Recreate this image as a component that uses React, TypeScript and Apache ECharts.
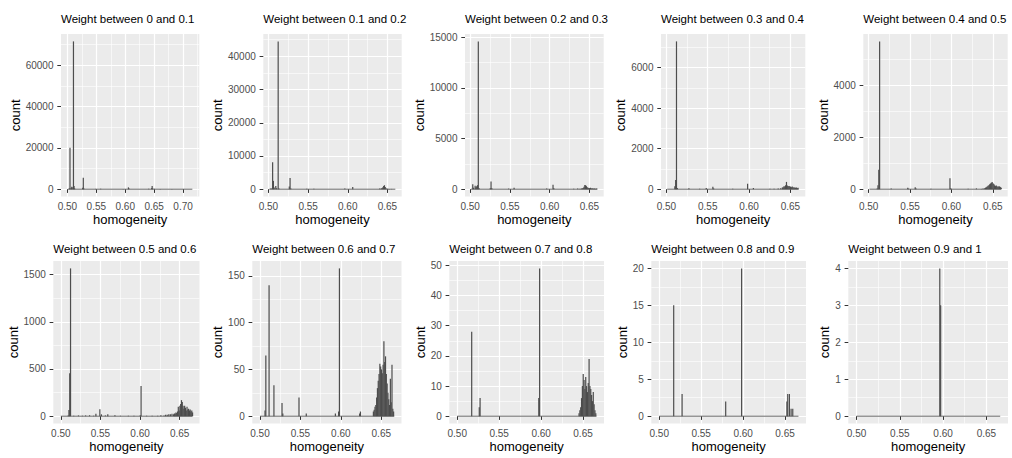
import React, { useEffect, useRef } from "react";
import * as echarts from "echarts";

// ---------- data ----------
const panelTitles = [
  "Weight between 0 and 0.1",
  "Weight between 0.1 and 0.2",
  "Weight between 0.2 and 0.3",
  "Weight between 0.3 and 0.4",
  "Weight between 0.4 and 0.5",
  "Weight between 0.5 and 0.6",
  "Weight between 0.6 and 0.7",
  "Weight between 0.7 and 0.8",
  "Weight between 0.8 and 0.9",
  "Weight between 0.9 and 1",
];

const binWidth = 0.001;

// bin centres (homogeneity) and counts for each weight class
const w00Bins = [0.503, 0.504, 0.506, 0.507, 0.509, 0.510, 0.511, 0.512, 0.526, 0.527, 0.528, 0.548, 0.557, 0.596, 0.605, 0.606, 0.640, 0.645, 0.646, 0.647, 0.650, 0.660, 0.680, 0.700];
const w00Counts = [400, 20000, 600, 1200, 900, 71500, 1500, 300, 700, 5500, 300, 150, 200, 150, 900, 300, 200, 500, 1500, 400, 200, 100, 100, 80];

const w01Bins = [0.503, 0.505, 0.506, 0.507, 0.509, 0.510, 0.512, 0.513, 0.526, 0.527, 0.528, 0.548, 0.557, 0.596, 0.606, 0.640, 0.642, 0.643, 0.644, 0.645, 0.646, 0.647, 0.648, 0.650, 0.652, 0.655];
const w01Counts = [300, 8100, 2500, 500, 1000, 300, 44500, 200, 800, 3400, 200, 150, 150, 200, 700, 200, 200, 400, 600, 1000, 1200, 700, 300, 150, 100, 80];

const w02Bins = [0.503, 0.504, 0.506, 0.507, 0.508, 0.509, 0.510, 0.511, 0.525, 0.526, 0.527, 0.548, 0.555, 0.596, 0.604, 0.605, 0.630, 0.635, 0.638, 0.640, 0.641, 0.642, 0.643, 0.644, 0.645, 0.646, 0.647, 0.648, 0.649, 0.650, 0.651, 0.652, 0.653, 0.654, 0.655, 0.656, 0.657, 0.658, 0.659];
const w02Counts = [500, 150, 350, 200, 300, 400, 14600, 100, 100, 750, 100, 60, 150, 80, 450, 100, 40, 80, 50, 60, 80, 120, 250, 420, 380, 300, 200, 150, 120, 100, 150, 80, 100, 60, 50, 80, 50, 40, 60];

const w03Bins = [0.510, 0.511, 0.512, 0.513, 0.527, 0.540, 0.548, 0.556, 0.557, 0.580, 0.598, 0.605, 0.625, 0.630, 0.635, 0.638, 0.640, 0.641, 0.642, 0.643, 0.644, 0.645, 0.646, 0.647, 0.648, 0.649, 0.650, 0.651, 0.652, 0.653, 0.654, 0.655, 0.656, 0.657, 0.658, 0.659];
const w03Counts = [150, 450, 7300, 60, 50, 20, 60, 120, 40, 20, 270, 60, 20, 20, 30, 50, 80, 100, 150, 130, 200, 360, 180, 150, 160, 140, 120, 100, 130, 100, 80, 90, 70, 80, 60, 70];

const w04Bins = [0.510, 0.511, 0.512, 0.513, 0.527, 0.547, 0.548, 0.556, 0.557, 0.575, 0.598, 0.599, 0.620, 0.630, 0.636, 0.638, 0.640, 0.641, 0.642, 0.643, 0.644, 0.645, 0.646, 0.647, 0.648, 0.649, 0.650, 0.651, 0.652, 0.653, 0.654, 0.655, 0.656, 0.657, 0.658, 0.659, 0.660];
const w04Counts = [30, 150, 750, 5700, 30, 60, 20, 80, 30, 20, 420, 40, 20, 30, 10, 25, 40, 60, 80, 100, 130, 150, 190, 220, 250, 280, 230, 200, 150, 120, 140, 110, 90, 110, 100, 80, 60];

const w05Bins = [0.509, 0.510, 0.511, 0.512, 0.516, 0.522, 0.527, 0.531, 0.536, 0.541, 0.544, 0.549, 0.551, 0.556, 0.559, 0.568, 0.575, 0.585, 0.592, 0.600, 0.601, 0.608, 0.615, 0.622, 0.626, 0.630, 0.632, 0.634, 0.636, 0.638, 0.640, 0.642, 0.643, 0.644, 0.645, 0.646, 0.647, 0.648, 0.649, 0.650, 0.651, 0.652, 0.653, 0.654, 0.655, 0.656, 0.657, 0.658, 0.659, 0.660, 0.661, 0.662, 0.663, 0.664, 0.665, 0.666];
const w05Counts = [8, 65, 455, 1565, 5, 8, 5, 8, 10, 5, 25, 75, 20, 8, 20, 10, 5, 5, 5, 10, 320, 5, 5, 5, 10, 8, 15, 15, 20, 20, 25, 20, 30, 25, 40, 35, 50, 100, 60, 110, 130, 170, 150, 110, 80, 110, 90, 60, 100, 70, 80, 60, 70, 50, 60, 40];

const w06Bins = [0.506, 0.507, 0.511, 0.517, 0.527, 0.528, 0.548, 0.557, 0.593, 0.597, 0.598, 0.623, 0.624, 0.640, 0.641, 0.642, 0.643, 0.644, 0.645, 0.646, 0.647, 0.648, 0.649, 0.650, 0.651, 0.652, 0.653, 0.654, 0.655, 0.656, 0.657, 0.658, 0.659, 0.660, 0.661, 0.662, 0.663, 0.664, 0.665];
const w06Counts = [6, 65, 140, 33, 14, 3, 20, 3, 3, 5, 158, 3, 5, 5, 7, 10, 12, 20, 30, 38, 45, 56, 53, 50, 46, 55, 80, 58, 64, 45, 35, 25, 18, 12, 40, 15, 55, 8, 5];

const w07Bins = [0.517, 0.526, 0.527, 0.597, 0.598, 0.645, 0.646, 0.647, 0.648, 0.649, 0.650, 0.651, 0.652, 0.653, 0.654, 0.655, 0.656, 0.657, 0.658, 0.659, 0.660, 0.661, 0.662, 0.663, 0.664, 0.665];
const w07Counts = [28, 3, 6, 6, 49, 1, 2, 3, 6, 10, 14, 12, 9, 13, 10, 8, 11, 19, 10, 9, 7, 5, 8, 4, 2, 1];

const w08Bins = [0.517, 0.527, 0.579, 0.598, 0.652, 0.653, 0.655, 0.657, 0.659];
const w08Counts = [15, 3, 2, 20, 2, 3, 3, 1, 1];

const w09Bins = [0.596, 0.597];
const w09Counts = [4, 3];

const binSets = [w00Bins, w01Bins, w02Bins, w03Bins, w04Bins, w05Bins, w06Bins, w07Bins, w08Bins, w09Bins];
const countSets = [w00Counts, w01Counts, w02Counts, w03Counts, w04Counts, w05Counts, w06Counts, w07Counts, w08Counts, w09Counts];

// homogeneity span covered by the (mostly empty) bins of each histogram
const spanStart = [0.501, 0.501, 0.501, 0.501, 0.501, 0.5, 0.5, 0.5, 0.5, 0.5];
const spanEnd = [0.716, 0.66, 0.66, 0.66, 0.66, 0.666, 0.666, 0.666, 0.666, 0.666];

// tick labels
const xTicksWide = [0.5, 0.55, 0.6, 0.65, 0.7];
const xTicksNarrow = [0.5, 0.55, 0.6, 0.65];
const yTickSets = [
  [0, 20000, 40000, 60000],
  [0, 10000, 20000, 30000, 40000],
  [0, 5000, 10000, 15000],
  [0, 2000, 4000, 6000],
  [0, 2000, 4000],
  [0, 500, 1000, 1500],
  [0, 50, 100, 150],
  [0, 10, 20, 30, 40, 50],
  [0, 5, 10, 15, 20],
  [0, 1, 2, 3, 4],
];

// ---------- layout ----------
const FONT = "'Liberation Sans', Arial, Helvetica, sans-serif";
const cellLefts = [0, 202.4, 404.8, 607.2, 809.6];
const panelLeft = [61, 263.3, 465, 661, 863.3, 53.3, 252.3, 449.3, 651.3, 848.3];
const panelRight = [199.3, 401.7, 603.7, 805.3, 1007.7, 199.5, 401.5, 604, 806, 1008];
const rowTop = [34, 261];
const titleOffset = [21, 18.5];
const panelHeight = 162.6;
const xLimits = [
  [0.489, 0.728],
  [0.4935, 0.668],
  [0.4935, 0.668],
  [0.4935, 0.668],
  [0.4935, 0.668],
  [0.4905, 0.675],
  [0.4905, 0.675],
  [0.4905, 0.675],
  [0.4905, 0.675],
  [0.4905, 0.675],
];

function buildOption() {
  const grid: any[] = [];
  const xAxis: any[] = [];
  const yAxis: any[] = [];
  const series: any[] = [];
  const title: any[] = [];

  for (let i = 0; i < 10; i++) {
    const row = i < 5 ? 0 : 1;
    const col = i % 5;
    const top = rowTop[row];
    const left = panelLeft[i];
    const width = panelRight[i] - left;
    grid.push({
      left,
      top,
      width,
      height: panelHeight,
      show: true,
      backgroundColor: "#EBEBEB",
      borderWidth: 0,
      containLabel: false,
    });
    title.push({
      text: panelTitles[i],
      left,
      top: top - titleOffset[row],
      padding: 0,
      textStyle: { fontFamily: FONT, fontSize: 11.5, fontWeight: "normal", color: "#000" },
    });
    const xTicks = i === 0 ? xTicksWide : xTicksNarrow;
    const yTicks = yTickSets[i];
    const yStep = yTicks[1] - yTicks[0];
    const maxCount = Math.max(...countSets[i]);
    const yMin = -0.05 * maxCount;
    const yMax = 1.05 * maxCount;

    xAxis.push({
      type: "value",
      gridIndex: i,
      min: xLimits[i][0],
      max: xLimits[i][1],
      minInterval: 0.05,
      maxInterval: 0.05,
      splitNumber: 4,
      name: "homogeneity",
      nameLocation: "middle",
      nameGap: 16,
      nameTextStyle: { fontFamily: FONT, fontSize: 13, color: "#000" },
      axisLine: { show: false },
      axisTick: { show: true, length: 3.7, customValues: xTicks, lineStyle: { color: "#333", width: 1 } },
      axisLabel: {
        customValues: xTicks,
        formatter: (v: number) => v.toFixed(2),
        margin: 4.5,
        fontFamily: FONT,
        fontSize: 10,
        color: "#4D4D4D",
      },
      splitLine: { show: true, lineStyle: { color: "#FFFFFF", width: 1.2 } },
      minorTick: { show: false, splitNumber: 2 },
      minorSplitLine: { show: true, lineStyle: { color: "#FFFFFF", width: 0.6 } },
    });
    yAxis.push({
      type: "value",
      gridIndex: i,
      min: yMin,
      max: yMax,
      minInterval: yStep,
      maxInterval: yStep,
      splitNumber: 4,
      name: "count",
      nameLocation: "middle",
      nameRotate: 90,
      nameGap: left - (cellLefts[col] + 15) - 7,
      nameTextStyle: { fontFamily: FONT, fontSize: 13, color: "#000" },
      axisLine: { show: false },
      axisTick: { show: true, length: 3.7, customValues: yTicks, lineStyle: { color: "#333", width: 1 } },
      axisLabel: {
        customValues: yTicks,
        formatter: (v: number) => String(Math.round(v)),
        margin: 7.5,
        fontFamily: FONT,
        fontSize: 10,
        color: "#4D4D4D",
      },
      splitLine: { show: true, lineStyle: { color: "#FFFFFF", width: 1.2 } },
      minorTick: { show: false, splitNumber: 2 },
      minorSplitLine: { show: true, lineStyle: { color: "#FFFFFF", width: 0.6 } },
    });

    // zero-height bins seen as a thin baseline
    series.push({
      type: "line",
      xAxisIndex: i,
      yAxisIndex: i,
      data: [
        [spanStart[i], 0],
        [spanEnd[i], 0],
      ],
      symbol: "none",
      silent: true,
      lineStyle: { color: "#595959", width: 0.9 },
      z: 2,
    });

    const data = binSets[i].map((b, k) => [b, countSets[i][k]]);
    series.push({
      type: "custom",
      xAxisIndex: i,
      yAxisIndex: i,
      data,
      encode: { x: 0, y: 1 },
      z: 3,
      renderItem: (_params: any, api: any) => {
        const x = api.value(0);
        const y = api.value(1);
        const p0 = api.coord([x - binWidth / 2, y]);
        const p1 = api.coord([x + binWidth / 2, 0]);
        const w = Math.max(p1[0] - p0[0], 1.2);
        return {
          type: "rect",
          shape: { x: p0[0], y: p0[1], width: w, height: p1[1] - p0[1] },
          style: { fill: "#4D4D4D" },
        };
      },
    });
  }

  return {
    animation: false,
    backgroundColor: "#FFFFFF",
    title,
    grid,
    xAxis,
    yAxis,
    series,
  };
}

export default function App() {
  const ref = useRef<HTMLDivElement>(null);
  useEffect(() => {
    document.body.style.margin = "0";
    if (!ref.current) return;
    const chart = echarts.init(ref.current, undefined, { renderer: "svg" });
    chart.setOption(buildOption() as any);
    return () => chart.dispose();
  }, []);
  return <div ref={ref} style={{ width: 1012, height: 458 }} />;
}
